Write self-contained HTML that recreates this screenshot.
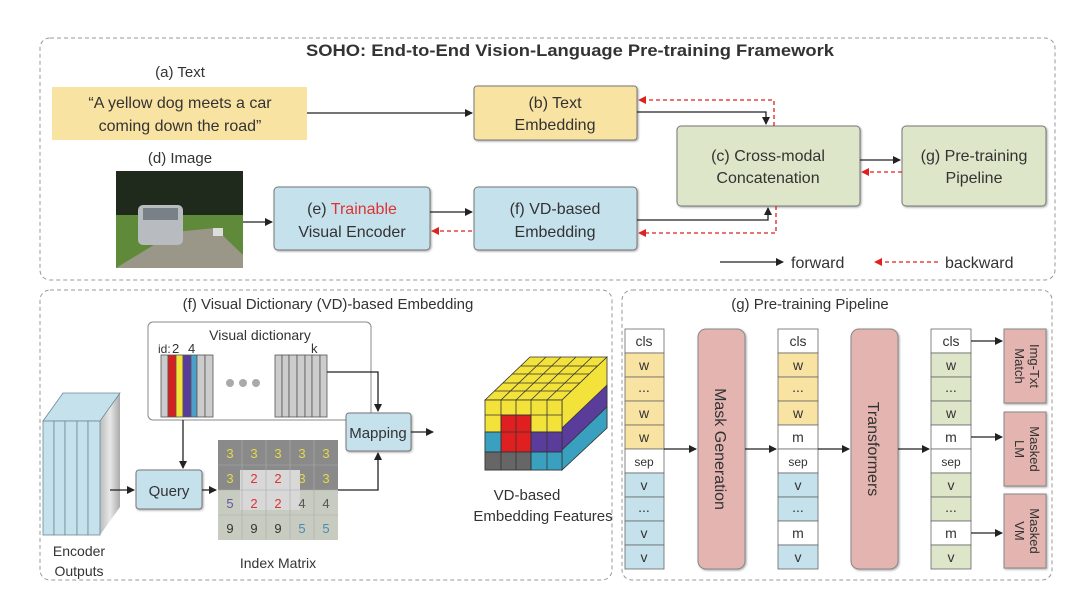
<!DOCTYPE html>
<html><head><meta charset="utf-8"><style>
html,body{margin:0;padding:0;background:#fff;}
svg text{font-family:"Liberation Sans",sans-serif;fill:#333;}
</style></head><body>
<svg width="1080" height="595" viewBox="0 0 1080 595" xmlns="http://www.w3.org/2000/svg">
<defs>
<marker id="ab" markerWidth="8" markerHeight="8" refX="7" refY="4" orient="auto" markerUnits="userSpaceOnUse"><path d="M0,0 L8,4 L0,8 z" fill="#222"/></marker>
<marker id="ar" markerWidth="8" markerHeight="8" refX="7" refY="4" orient="auto" markerUnits="userSpaceOnUse"><path d="M0,0 L8,4 L0,8 z" fill="#d22"/></marker>
<filter id="sh"><feDropShadow dx="1" dy="1" stdDeviation="1" flood-opacity="0.35"/></filter>
<linearGradient id="gs" x1="0" y1="0" x2="1" y2="0"><stop offset="0" stop-color="#bbb"/><stop offset="0.5" stop-color="#e8e8e8"/><stop offset="1" stop-color="#aaa"/></linearGradient>
</defs>
<!-- top frame -->
<rect x="40" y="38" width="1015" height="242" rx="10" fill="none" stroke="#999" stroke-dasharray="4,3"/>
<text x="570" y="56" font-size="16.5" font-weight="bold" text-anchor="middle" fill="#222" textLength="528" lengthAdjust="spacingAndGlyphs">SOHO: End-to-End Vision-Language Pre-training Framework</text>
<text x="180" y="77" font-size="15" text-anchor="middle">(a) Text</text>
<rect x="52" y="87" width="255" height="53" fill="#f9e3a3"/>
<text x="180" y="108" font-size="16" text-anchor="middle">“A yellow dog meets a car</text>
<text x="180" y="131" font-size="16" text-anchor="middle">coming down the road”</text>
<rect x="474" y="86" width="163" height="54" rx="3" fill="#f9e3a3" stroke="#777" filter="url(#sh)"/>
<text x="555" y="108" font-size="16" text-anchor="middle">(b) Text</text>
<text x="555" y="130" font-size="16" text-anchor="middle">Embedding</text>
<rect x="677" y="126" width="183" height="80" rx="4" fill="#dde6c8" stroke="#777" filter="url(#sh)"/>
<text x="768" y="161" font-size="16" text-anchor="middle">(c) Cross-modal</text>
<text x="768" y="183" font-size="16" text-anchor="middle">Concatenation</text>
<rect x="902" y="126" width="144" height="80" rx="4" fill="#dde6c8" stroke="#777" filter="url(#sh)"/>
<text x="974" y="161" font-size="16" text-anchor="middle">(g) Pre-training</text>
<text x="974" y="183" font-size="16" text-anchor="middle">Pipeline</text>
<text x="180" y="163" font-size="15" text-anchor="middle">(d) Image</text>
<!-- photo -->
<rect x="116" y="171" width="127" height="97" fill="#1f2a1c"/>
<rect x="116" y="215" width="127" height="53" fill="#5f8a3a"/>
<path d="M116,268 L175,232 L215,228 L243,255 L243,268 z" fill="#9a9688"/>
<rect x="138" y="205" width="45" height="40" rx="5" fill="#b8bcc0"/>
<rect x="143" y="208" width="35" height="12" fill="#7a8088"/>
<rect x="213" y="228" width="10" height="8" fill="#ddd"/>
<rect x="274" y="187" width="156" height="63" rx="4" fill="#c5e1ec" stroke="#777" filter="url(#sh)"/>
<text x="352" y="214" font-size="16" text-anchor="middle">(e) <tspan style="fill:#d33">Trainable</tspan></text>
<text x="352" y="237" font-size="16" text-anchor="middle">Visual Encoder</text>
<rect x="474" y="187" width="163" height="63" rx="4" fill="#c5e1ec" stroke="#777" filter="url(#sh)"/>
<text x="555" y="214" font-size="16" text-anchor="middle">(f) VD-based</text>
<text x="555" y="237" font-size="16" text-anchor="middle">Embedding</text>
<!-- arrows top -->
<line x1="307" y1="113" x2="472" y2="113" stroke="#222" stroke-width="1.3" marker-end="url(#ab)"/>
<line x1="243" y1="222" x2="272" y2="222" stroke="#222" stroke-width="1.3" marker-end="url(#ab)"/>
<line x1="430" y1="212" x2="472" y2="212" stroke="#222" stroke-width="1.3" marker-end="url(#ab)"/>
<line x1="472" y1="231" x2="432" y2="231" stroke="#d22" stroke-width="1.3" stroke-dasharray="4,3" marker-end="url(#ar)"/>
<polyline points="637,112 766,112 766,124" fill="none" stroke="#222" stroke-width="1.3" marker-end="url(#ab)"/>
<polyline points="774,126 774,100 639,100" fill="none" stroke="#d22" stroke-width="1.3" stroke-dasharray="4,3" marker-end="url(#ar)"/>
<polyline points="637,220 768,220 768,208" fill="none" stroke="#222" stroke-width="1.3" marker-end="url(#ab)"/>
<polyline points="776,206 776,233 639,233" fill="none" stroke="#d22" stroke-width="1.3" stroke-dasharray="4,3" marker-end="url(#ar)"/>
<line x1="860" y1="160" x2="900" y2="160" stroke="#222" stroke-width="1.3" marker-end="url(#ab)"/>
<line x1="902" y1="172" x2="862" y2="172" stroke="#d22" stroke-width="1.3" stroke-dasharray="4,3" marker-end="url(#ar)"/>
<line x1="720" y1="262" x2="783" y2="262" stroke="#222" stroke-width="1.3" marker-end="url(#ab)"/>
<text x="791" y="268" font-size="16">forward</text>
<line x1="938" y1="262" x2="875" y2="262" stroke="#d22" stroke-width="1.3" stroke-dasharray="4,3" marker-end="url(#ar)"/>
<text x="945" y="268" font-size="16">backward</text>

<!-- bottom-left frame -->
<rect x="40" y="290" width="572" height="290" rx="10" fill="none" stroke="#999" stroke-dasharray="4,3"/>
<text x="328" y="309" font-size="15" text-anchor="middle">(f) Visual Dictionary (VD)-based Embedding</text>
<rect x="148" y="322" width="223" height="98" rx="5" fill="#fff" stroke="#888"/>
<text x="260" y="340" font-size="14" text-anchor="middle">Visual dictionary</text>
<text x="158" y="353" font-size="12">id:</text>
<text x="172" y="353" font-size="13">2</text><text x="188" y="353" font-size="13">4</text>
<text x="311" y="353" font-size="13">k</text>
<g stroke="#555" stroke-width="0.8">
<rect x="161" y="355" width="7" height="62" fill="#ccc"/><rect x="168" y="355" width="8" height="62" fill="#d62020"/>
<rect x="176" y="355" width="7" height="62" fill="#f2e23a"/><rect x="183" y="355" width="8" height="62" fill="#5a3c9a"/>
<rect x="191" y="355" width="6" height="62" fill="#4aa0c8"/><rect x="197" y="355" width="8" height="62" fill="#ccc"/>
<rect x="205" y="355" width="8" height="62" fill="#ccc"/>
<rect x="275" y="355" width="7" height="62" fill="#ccc"/><rect x="282" y="355" width="7" height="62" fill="#ccc"/>
<rect x="289" y="355" width="8" height="62" fill="#ccc"/><rect x="297" y="355" width="8" height="62" fill="#ccc"/>
<rect x="305" y="355" width="7" height="62" fill="#ccc"/><rect x="312" y="355" width="8" height="62" fill="#ccc"/>
<rect x="320" y="355" width="7" height="62" fill="#ccc"/>
</g>
<circle cx="230" cy="383" r="4" fill="#aaa"/><circle cx="243" cy="383" r="4" fill="#aaa"/><circle cx="256" cy="383" r="4" fill="#aaa"/>
<!-- encoder outputs -->
<path d="M100,421 L120,393 L120,507 L100,535 z" fill="url(#gs)"/>
<path d="M43,421 L63,393 L120,393 L100,421 z" fill="#c5e1ec" stroke="#6a8a96" stroke-width="0.8"/>
<g fill="#c5e1ec" stroke="#6a8a96" stroke-width="0.8">
<rect x="43" y="421" width="11" height="114"/><rect x="54" y="421" width="11" height="114"/>
<rect x="65" y="421" width="12" height="114"/><rect x="77" y="421" width="11" height="114"/>
<rect x="88" y="421" width="12" height="114"/></g>
<text x="79" y="556" font-size="14" text-anchor="middle">Encoder</text>
<text x="79" y="576" font-size="14" text-anchor="middle">Outputs</text>
<rect x="136" y="470" width="66" height="39" rx="3" fill="#c5e1ec" stroke="#777" filter="url(#sh)"/>
<text x="169" y="496" font-size="15" text-anchor="middle">Query</text>
<line x1="110" y1="490" x2="134" y2="490" stroke="#222" stroke-width="1.3" marker-end="url(#ab)"/>
<line x1="183" y1="420" x2="183" y2="468" stroke="#222" stroke-width="1.3" marker-end="url(#ab)"/>
<line x1="202" y1="490" x2="216" y2="490" stroke="#222" stroke-width="1.3" marker-end="url(#ab)"/>
<!-- index matrix -->
<rect x="218" y="440" width="120" height="50" fill="#8a8a8a"/>
<rect x="218" y="490" width="120" height="50" fill="#c8ccc0"/>
<rect x="240" y="470" width="60" height="40" fill="#d8d8d8"/>
<g stroke="#aaa" stroke-width="0.6" fill="none">
<line x1="242" y1="440" x2="242" y2="540"/><line x1="266" y1="440" x2="266" y2="540"/><line x1="290" y1="440" x2="290" y2="540"/><line x1="314" y1="440" x2="314" y2="540"/>
<line x1="218" y1="465" x2="338" y2="465"/><line x1="218" y1="490" x2="338" y2="490"/><line x1="218" y1="515" x2="338" y2="515"/></g>
<g font-size="13" text-anchor="middle">
<text x="230" y="458" style="fill:#e8d84a">3</text><text x="254" y="458" style="fill:#e8d84a">3</text><text x="278" y="458" style="fill:#e8d84a">3</text><text x="302" y="458" style="fill:#e8d84a">3</text><text x="326" y="458" style="fill:#e8d84a">3</text>
<text x="230" y="483" style="fill:#e8d84a">3</text><text x="254" y="483" style="fill:#d33">2</text><text x="278" y="483" style="fill:#d33">2</text><text x="302" y="483" style="fill:#e8d84a">3</text><text x="326" y="483" style="fill:#e8d84a">3</text>
<text x="230" y="508" style="fill:#5a5aa0">5</text><text x="254" y="508" style="fill:#d33">2</text><text x="278" y="508" style="fill:#d33">2</text><text x="302" y="508" style="fill:#555">4</text><text x="326" y="508" style="fill:#555">4</text>
<text x="230" y="533" style="fill:#333">9</text><text x="254" y="533" style="fill:#333">9</text><text x="278" y="533" style="fill:#333">9</text><text x="302" y="533" style="fill:#4a8ab0">5</text><text x="326" y="533" style="fill:#4a8ab0">5</text>
</g>
<text x="278" y="568" font-size="14" text-anchor="middle">Index Matrix</text>
<rect x="346" y="413" width="65" height="38" rx="3" fill="#c5e1ec" stroke="#777" filter="url(#sh)"/>
<text x="378" y="438" font-size="15" text-anchor="middle">Mapping</text>
<polyline points="327,372 378,372 378,411" fill="none" stroke="#222" stroke-width="1.3" marker-end="url(#ab)"/>
<polyline points="338,490 378,490 378,453" fill="none" stroke="#222" stroke-width="1.3" marker-end="url(#ab)"/>
<line x1="411" y1="432" x2="433" y2="432" stroke="#222" stroke-width="1.3" marker-end="url(#ab)"/>
<!-- cube -->
<g stroke="#333" stroke-width="0.8">
<path d="M485,400 L530,357 L607,357 L562,400 z" fill="#f2e23a"/>
<path d="M562,400 L607,357 L607,428 L562,470 z" fill="#f2e23a"/>
<path d="M562,428 L607,385 L607,407 L562,450 z" fill="#5a3c9a"/>
<path d="M562,450 L607,407 L607,428 L562,470 z" fill="#3aa0c0"/>
<rect x="485" y="400" width="77" height="70" fill="#f2e23a"/>
<rect x="485" y="432" width="77" height="20" fill="#3aa0c0"/>
<rect x="531" y="432" width="31" height="20" fill="#5a3c9a"/>
<rect x="501" y="415" width="30" height="37" fill="#e02020"/>
<rect x="485" y="452" width="46" height="18" fill="#666"/>
<rect x="531" y="452" width="31" height="18" fill="#3aa0c0"/>
<line x1="501" y1="400" x2="501" y2="470"/><line x1="516" y1="400" x2="516" y2="470"/><line x1="531" y1="400" x2="531" y2="470"/><line x1="547" y1="400" x2="547" y2="470"/>
<line x1="485" y1="415" x2="562" y2="415"/><line x1="485" y1="432" x2="562" y2="432"/><line x1="485" y1="452" x2="562" y2="452"/>
<line x1="501" y1="400" x2="546" y2="357"/><line x1="516" y1="400" x2="561" y2="357"/><line x1="531" y1="400" x2="576" y2="357"/><line x1="547" y1="400" x2="592" y2="357"/>
<line x1="494" y1="391" x2="571" y2="391"/><line x1="503" y1="383" x2="580" y2="383"/><line x1="512" y1="374" x2="589" y2="374"/><line x1="521" y1="366" x2="598" y2="366"/>
</g>
<text x="527" y="500" font-size="15" text-anchor="middle">VD-based</text>
<text x="543" y="521" font-size="15" text-anchor="middle">Embedding Features</text>

<!-- bottom-right frame -->
<rect x="622" y="290" width="430" height="290" rx="10" fill="none" stroke="#999" stroke-dasharray="4,3"/>
<text x="810" y="309" font-size="15" text-anchor="middle">(g) Pre-training Pipeline</text>
<g stroke="#666" stroke-width="0.8">
<rect x="625" y="329" width="39" height="24" fill="#fff"/><rect x="625" y="353" width="39" height="24" fill="#f9e3a3"/><rect x="625" y="377" width="39" height="24" fill="#f9e3a3"/><rect x="625" y="401" width="39" height="24" fill="#f9e3a3"/><rect x="625" y="425" width="39" height="24" fill="#f9e3a3"/><rect x="625" y="449" width="39" height="24" fill="#fff"/><rect x="625" y="473" width="39" height="24" fill="#c5e1ec"/><rect x="625" y="497" width="39" height="24" fill="#c5e1ec"/><rect x="625" y="521" width="39" height="24" fill="#c5e1ec"/><rect x="625" y="545" width="39" height="24" fill="#c5e1ec"/>
<rect x="778" y="329" width="40" height="24" fill="#fff"/><rect x="778" y="353" width="40" height="24" fill="#f9e3a3"/><rect x="778" y="377" width="40" height="24" fill="#f9e3a3"/><rect x="778" y="401" width="40" height="24" fill="#f9e3a3"/><rect x="778" y="425" width="40" height="24" fill="#fff"/><rect x="778" y="449" width="40" height="24" fill="#fff"/><rect x="778" y="473" width="40" height="24" fill="#c5e1ec"/><rect x="778" y="497" width="40" height="24" fill="#c5e1ec"/><rect x="778" y="521" width="40" height="24" fill="#fff"/><rect x="778" y="545" width="40" height="24" fill="#c5e1ec"/>
<rect x="931" y="329" width="40" height="24" fill="#fff"/><rect x="931" y="353" width="40" height="24" fill="#dde6c8"/><rect x="931" y="377" width="40" height="24" fill="#dde6c8"/><rect x="931" y="401" width="40" height="24" fill="#dde6c8"/><rect x="931" y="425" width="40" height="24" fill="#fff"/><rect x="931" y="449" width="40" height="24" fill="#fff"/><rect x="931" y="473" width="40" height="24" fill="#dde6c8"/><rect x="931" y="497" width="40" height="24" fill="#dde6c8"/><rect x="931" y="521" width="40" height="24" fill="#fff"/><rect x="931" y="545" width="40" height="24" fill="#dde6c8"/>
</g>
<g font-size="14" text-anchor="middle">
<text x="644" y="346">cls</text><text x="644" y="370">w</text><text x="644" y="392">...</text><text x="644" y="418">w</text><text x="644" y="442">w</text><text x="644" y="466" font-size="12">sep</text><text x="644" y="490">v</text><text x="644" y="512">...</text><text x="644" y="538">v</text><text x="644" y="562">v</text>
<text x="798" y="346">cls</text><text x="798" y="370">w</text><text x="798" y="392">...</text><text x="798" y="418">w</text><text x="798" y="442">m</text><text x="798" y="466" font-size="12">sep</text><text x="798" y="490">v</text><text x="798" y="512">...</text><text x="798" y="538">m</text><text x="798" y="562">v</text>
<text x="951" y="346">cls</text><text x="951" y="370">w</text><text x="951" y="392">...</text><text x="951" y="418">w</text><text x="951" y="442">m</text><text x="951" y="466" font-size="12">sep</text><text x="951" y="490">v</text><text x="951" y="512">...</text><text x="951" y="538">m</text><text x="951" y="562">v</text>
</g>
<rect x="698" y="329" width="47" height="240" rx="8" fill="#e3b4b0" stroke="#888" filter="url(#sh)"/>
<text transform="translate(715,449) rotate(90)" font-size="16" text-anchor="middle">Mask Generation</text>
<rect x="851" y="329" width="47" height="240" rx="8" fill="#e3b4b0" stroke="#888" filter="url(#sh)"/>
<text transform="translate(868,449) rotate(90)" font-size="16" text-anchor="middle">Transformers</text>
<line x1="664" y1="449" x2="696" y2="449" stroke="#222" stroke-width="1.3" marker-end="url(#ab)"/>
<line x1="745" y1="449" x2="776" y2="449" stroke="#222" stroke-width="1.3" marker-end="url(#ab)"/>
<line x1="818" y1="449" x2="849" y2="449" stroke="#222" stroke-width="1.3" marker-end="url(#ab)"/>
<line x1="898" y1="449" x2="929" y2="449" stroke="#222" stroke-width="1.3" marker-end="url(#ab)"/>
<rect x="1004" y="329" width="42" height="74" fill="#e3b4b0" stroke="#888" filter="url(#sh)"/>
<rect x="1004" y="412" width="42" height="74" fill="#e3b4b0" stroke="#888" filter="url(#sh)"/>
<rect x="1004" y="494" width="42" height="74" fill="#e3b4b0" stroke="#888" filter="url(#sh)"/>
<text transform="translate(1030,366) rotate(90)" font-size="13" text-anchor="middle">Img-Txt</text>
<text transform="translate(1015,366) rotate(90)" font-size="13" text-anchor="middle">Match</text>
<text transform="translate(1030,449) rotate(90)" font-size="13" text-anchor="middle">Masked</text>
<text transform="translate(1015,449) rotate(90)" font-size="13" text-anchor="middle">LM</text>
<text transform="translate(1030,531) rotate(90)" font-size="13" text-anchor="middle">Masked</text>
<text transform="translate(1015,531) rotate(90)" font-size="13" text-anchor="middle">VM</text>
<line x1="971" y1="341" x2="1002" y2="341" stroke="#222" stroke-width="1.3" marker-end="url(#ab)"/>
<line x1="971" y1="437" x2="1002" y2="437" stroke="#222" stroke-width="1.3" marker-end="url(#ab)"/>
<line x1="971" y1="533" x2="1002" y2="533" stroke="#222" stroke-width="1.3" marker-end="url(#ab)"/>
</svg>
</body></html>
